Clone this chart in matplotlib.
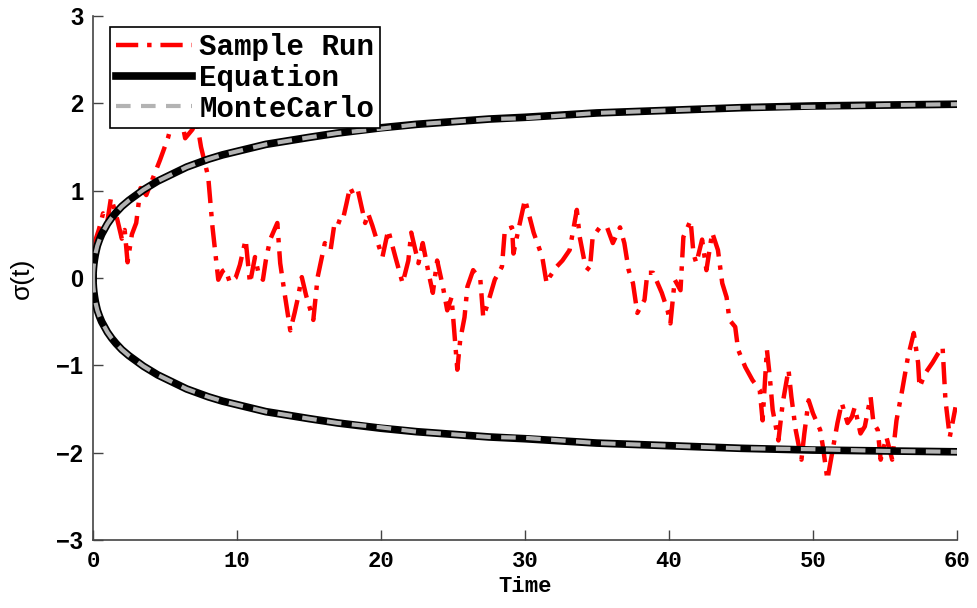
import matplotlib
matplotlib.use("Agg")
import matplotlib.pyplot as plt

# one sample path of sigma(t)
run_t = [0.0, 0.4, 0.7, 1.0, 1.25, 1.5, 1.7, 2.0, 2.2, 2.4, 2.7, 3.0, 3.3, 3.7,
         4.2, 4.65, 5.2, 5.6, 6.0, 6.4, 6.9, 7.2, 7.5, 8.0, 8.3, 8.5, 8.7, 9.0,
         9.2, 9.5, 9.9, 10.2, 10.6, 10.9, 11.25, 11.5, 11.8, 12.0, 12.3, 12.8,
         13.0, 13.3, 13.7, 14.0, 14.2, 14.5, 14.8, 15.3, 15.6, 16.1, 16.5, 16.8,
         17.3, 17.6, 17.85, 18.1, 18.4, 18.9, 19.1, 19.4, 19.7, 20.1, 20.5, 21.0,
         21.5, 21.9, 22.1, 22.6, 22.9, 23.3, 23.6, 23.9, 24.3, 24.6, 24.9, 25.3,
         25.5, 25.8, 26.0, 26.4, 26.9, 27.1, 27.4, 27.9, 28.4, 28.6, 29.1, 29.2,
         29.5, 30.0, 30.6, 31.2, 31.5, 31.7, 32.2, 32.6, 33.1, 33.6, 33.8, 34.2,
         34.5, 34.7, 35.2, 35.7, 36.1, 36.6, 36.9, 37.2, 37.5, 37.8, 38.3, 38.5,
         38.9, 39.5, 39.9, 40.1, 40.4, 40.8, 41.0, 41.5, 41.7, 41.9, 42.3, 42.6,
         43.0, 43.4, 43.7, 44.0, 44.2, 44.6, 44.8, 45.3, 45.8, 46.3, 46.5, 46.8,
         47.0, 47.2, 47.6, 47.9, 48.3, 48.5, 48.8, 49.2, 49.4, 49.7, 50.0, 50.5,
         50.7, 51.0, 51.4, 51.7, 52.0, 52.4, 52.7, 52.9, 53.3, 53.6, 54.0, 54.2,
         54.5, 54.7, 55.1, 55.5, 55.8, 56.2, 56.6, 57.0, 57.3, 57.4, 57.8, 58.3,
         58.7, 59.0, 59.2, 59.5, 59.9]
run_sigma = [0.35, 0.55, 0.74, 0.65, 0.92, 0.78, 0.66, 0.45, 0.55, 0.18, 0.5,
             0.63, 1.03, 0.95, 1.16, 1.35, 1.6, 1.85, 1.95, 1.6, 1.7, 1.8, 1.5,
             1.16, 0.58, 0.28, -0.02, 0.08, 0.1, -0.05, 0.0, 0.15, 0.44, -0.06,
             0.24, 0.05, -0.02, 0.2, 0.44, 0.63, 0.17, -0.17, -0.6, -0.4, -0.25,
             0.01, -0.2, -0.48, 0.01, 0.4, 0.32, 0.66, 0.63, 0.85, 1.04, 0.95,
             1.0, 0.63, 0.74, 0.6, 0.44, 0.24, 0.55, 0.24, -0.06, 0.2, 0.52,
             0.17, 0.4, 0.06, -0.17, 0.2, -0.1, -0.37, -0.22, -1.05, -0.71,
             -0.45, -0.1, 0.09, -0.02, -0.45, -0.3, -0.02, 0.13, 0.55, 0.58,
             0.28, 0.52, 0.9, 0.52, 0.24, -0.06, 0.01, 0.13, 0.2, 0.32, 0.78,
             0.47, 0.13, 0.09, 0.47, 0.58, 0.58, 0.4, 0.58, 0.4, 0.09, -0.06,
             -0.4, -0.25, 0.06, 0.06, -0.17, -0.37, -0.52, -0.02, -0.14, 0.47,
             0.66, 0.28, 0.17, 0.44, 0.09, 0.52, 0.32, -0.06, -0.22, -0.48,
             -0.56, -0.82, -1.02, -1.17, -1.28, -1.63, -0.82, -1.13, -1.51,
             -1.86, -1.43, -1.05, -1.36, -1.74, -2.08, -1.78, -1.4, -1.55,
             -1.74, -1.94, -2.31, -1.94, -1.66, -1.43, -1.66, -1.59, -1.48,
             -1.78, -1.7, -1.36, -1.66, -1.74, -2.08, -1.82, -2.08, -1.63,
             -1.28, -0.9, -0.63, -0.97, -1.25, -1.09, -0.97, -0.86, -0.79,
             -1.4, -1.82, -1.48]

# envelope: analytic result and Monte Carlo estimate
env_t = [0.0, 0.01, 0.03, 0.06, 0.1, 0.15, 0.2, 0.3, 0.45, 0.6, 0.8, 1.0, 1.3,
         1.6, 2.0, 2.5, 3.0, 3.5, 4.0, 4.5, 5.0, 5.5, 6.0, 6.5, 7.0, 8.0, 9.0,
         10.0, 11.0, 12.0, 13.5, 15.0, 17.0, 20.0, 22.5, 25.0, 27.5, 30.0, 35.0,
         40.0, 45.0, 50.0, 55.0, 60.0]
eq_sigma = [0.0, 0.06, 0.11, 0.16, 0.21, 0.26, 0.3, 0.37, 0.44, 0.5, 0.56,
            0.62, 0.69, 0.75, 0.82, 0.89, 0.95, 1.01, 1.06, 1.11, 1.15, 1.19,
            1.23, 1.27, 1.3, 1.36, 1.41, 1.45, 1.49, 1.53, 1.57, 1.61, 1.66,
            1.72, 1.76, 1.79, 1.82, 1.84, 1.89, 1.92, 1.95, 1.97, 1.98, 1.99]
mc_sigma = [0.0, 0.06, 0.11, 0.16, 0.21, 0.26, 0.3, 0.37, 0.44, 0.5, 0.56,
            0.62, 0.69, 0.75, 0.82, 0.89, 0.95, 1.01, 1.06, 1.11, 1.15, 1.19,
            1.23, 1.27, 1.3, 1.36, 1.41, 1.45, 1.49, 1.53, 1.57, 1.61, 1.66,
            1.71, 1.76, 1.79, 1.82, 1.83, 1.89, 1.92, 1.95, 1.96, 1.98, 1.99]

mono = 'Liberation Mono'
sans = 'Liberation Sans'

fig = plt.figure(figsize=(9.78, 6.08), dpi=100)
ax = fig.add_axes([0.0951, 0.1118, 0.8834, 0.8619])

ax.plot(run_t, run_sigma, color='red', lw=3.2, linestyle=(0, (5, 2, 1, 2)),
        label='Sample Run', zorder=2)
ax.plot(env_t, eq_sigma, color='black', lw=5.5, label='Equation', zorder=3)
ax.plot(env_t, [-v for v in eq_sigma], color='black', lw=5.5, zorder=3)
ax.plot(env_t, mc_sigma, color='#b3b3b3', lw=3, linestyle=(0, (3.5, 2.5)),
        label='MonteCarlo', zorder=4)
ax.plot(env_t, [-v for v in mc_sigma], color='#b3b3b3', lw=3,
        linestyle=(0, (3.5, 2.5)), zorder=4)

ax.set_xlim(0, 60)
ax.set_ylim(-3, 3)
ax.set_xticks(range(0, 61, 10))
ax.set_yticks(range(-3, 4))
ax.spines['top'].set_visible(False)
ax.spines['right'].set_visible(False)
for s in ('left', 'bottom'):
    ax.spines[s].set_color('#444444')
    ax.spines[s].set_linewidth(1.2)
ax.tick_params(direction='in', length=7, width=1, color='#444444')
ax.tick_params(axis='x', pad=8)
ax.tick_params(axis='y', pad=7)
for lab in ax.get_xticklabels():
    lab.set_fontfamily(mono)
    lab.set_fontweight('bold')
    lab.set_fontsize(16)
for lab in ax.get_yticklabels():
    lab.set_fontfamily(sans)
    lab.set_fontweight('bold')
    lab.set_fontsize(17)

ax.set_xlabel('Time', fontfamily=mono, fontweight='bold', fontsize=16,
              labelpad=3)
ax.set_ylabel('σ(t)', fontfamily=sans, fontsize=19, labelpad=16)

leg = ax.legend(loc='upper left', bbox_to_anchor=(0.02, 0.979),
                borderaxespad=0, fancybox=False, framealpha=1,
                edgecolor='black', handlelength=2.6, handletextpad=0.25,
                labelspacing=0.1, borderpad=0.2,
                prop={'family': mono, 'weight': 'bold', 'size': 21})
leg.get_frame().set_linewidth(1.2)

fig.savefig('out.png', dpi=100)
